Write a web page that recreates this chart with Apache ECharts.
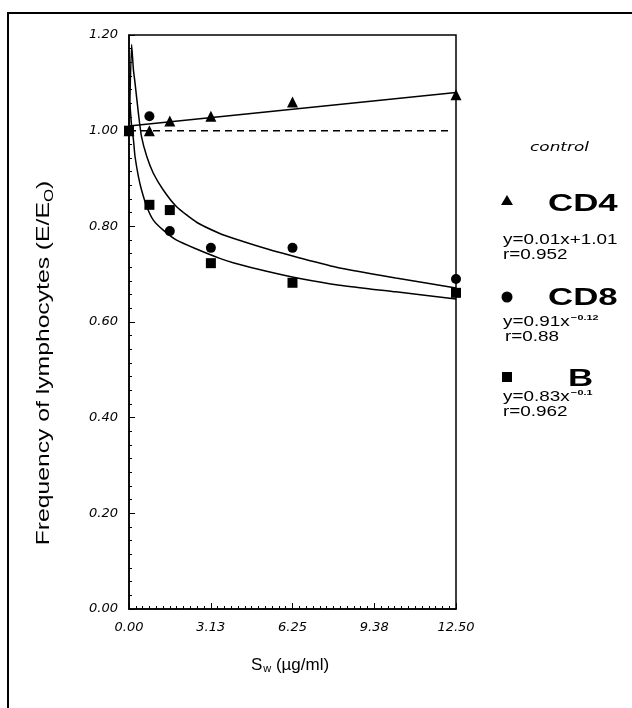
<!DOCTYPE html>
<html>
<head>
<meta charset="utf-8">
<script src="https://cdn.jsdelivr.net/npm/echarts@6/dist/echarts.min.js"></script>
<style>
html, body { margin: 0; padding: 0; background: #fff; }
#chart { width: 632px; height: 708px; }
</style>
</head>
<body>
<div id="chart"></div>
<script>
// tick labels
const xTickLabels = ['0.00', '3.13', '6.25', '9.38', '12.50'];
const yTickLabels = ['0.00', '0.20', '0.40', '0.60', '0.80', '1.00', '1.20'];

// measured points (dose in ug/ml)
const doses = [0, 0.78, 1.56, 3.13, 6.25, 12.5];
const cd4 = [1.00, 1.00, 1.02, 1.03, 1.06, 1.075];
const cd8 = [1.00, 1.03, 0.79, 0.755, 0.755, 0.69];
const bCells = [1.00, 0.845, 0.834, 0.723, 0.682, 0.661];

// fitted curves
const cd4FitX = [0, 12.5];
const cd4FitY = [1.01, 1.08];
const cd8FitX = [0.01, 0.1, 0.17, 0.23, 0.36, 0.48, 0.68, 0.93, 1.31, 1.82, 2.6, 3.47, 3.98, 5.26, 6.53, 8.05, 10.2, 12.5];
const cd8FitY = [1.00, 1.18, 1.127, 1.10, 1.036, 0.987, 0.946, 0.911, 0.876, 0.841, 0.808, 0.785, 0.775, 0.753, 0.734, 0.713, 0.692, 0.671];
const bFitX = [0.03, 0.1, 0.17, 0.23, 0.36, 0.48, 0.68, 0.93, 1.31, 1.82, 2.6, 3.47, 3.98, 5.26, 6.53, 8.05, 10.2, 12.5];
const bFitY = [1.06, 1.01, 0.981, 0.946, 0.904, 0.876, 0.841, 0.813, 0.792, 0.771, 0.752, 0.733, 0.724, 0.706, 0.691, 0.677, 0.663, 0.648];
const controlX = [0, 12.2];
const controlY = [1.00, 1.00];

const pairs = (xs, ys) => xs.map((x, i) => [x, ys[i]]);

const chart = echarts.init(document.getElementById('chart'));

const tickFont = { fontFamily: 'DejaVu Sans', fontStyle: 'italic', fontSize: 13, color: '#000' };
const fitLine = (name, data) => ({
    name: name,
    type: 'line',
    data: data,
    showSymbol: false,
    smooth: 0.2,
    lineStyle: { color: '#000', width: 1.5 },
    z: 2
});
const dots = (name, symbol, size, data) => ({
    name: name,
    type: 'scatter',
    symbol: symbol,
    symbolSize: size,
    data: data,
    itemStyle: { color: '#000', opacity: 1 },
    z: 3
});

// the figure's lettering is wide, so legend text is stretched sideways
const eqFont = { fontFamily: 'Liberation Sans', fontSize: 14, color: '#000' };
const bigLabel = (text, x, y) => ({
    type: 'text', x: x, y: y, scaleX: 1.45,
    style: { text: text, fontFamily: 'Liberation Sans', fontWeight: 'bold', fontSize: 24, fill: '#000', verticalAlign: 'middle' }
});
const eqLabel = (text, x, y) => ({
    type: 'text', x: x, y: y, scaleX: 1.35,
    style: { text: text, ...eqFont, fill: '#000', verticalAlign: 'middle' }
});
const eqPow = (base, pow, x, y) => ({
    type: 'text', x: x, y: y, scaleX: 1.35,
    style: {
        text: '{a|' + base + '}{p|' + pow + '}', verticalAlign: 'middle',
        rich: { a: { ...eqFont }, p: { fontFamily: 'Liberation Sans', fontSize: 8, fontWeight: 'bold', color: '#000', padding: [0, 0, 8, 1] } }
    }
});

const option = {
    animation: false,
    backgroundColor: '#fff',
    grid: {
        left: 129, top: 35, width: 327, height: 574,
        show: true, borderColor: '#000', borderWidth: 1.5
    },
    xAxis: {
        type: 'value',
        min: 0, max: 12.5, interval: 3.125,
        axisLine: { lineStyle: { color: '#000', width: 1.5 } },
        axisTick: { inside: true, length: 6, lineStyle: { color: '#000' } },
        minorTick: { show: true, splitNumber: 12, length: 3, lineStyle: { color: '#000' } },
        splitLine: { show: false },
        axisLabel: Object.assign({ margin: 12, formatter: (v) => xTickLabels[Math.round(v / 3.125)] }, tickFont)
    },
    yAxis: {
        type: 'value',
        min: 0, max: 1.2, interval: 0.2,
        axisLine: { lineStyle: { color: '#000', width: 1.5 } },
        axisTick: { inside: true, length: 6, lineStyle: { color: '#000' } },
        minorTick: { show: true, splitNumber: 7, length: 3, lineStyle: { color: '#000' } },
        splitLine: { show: false },
        axisLabel: Object.assign({ margin: 11, formatter: (v) => yTickLabels[Math.round(v / 0.2)] }, tickFont)
    },
    series: [
        {
            name: 'control',
            type: 'line',
            data: pairs(controlX, controlY),
            showSymbol: false,
            lineStyle: { color: '#000', width: 1.5, type: [7, 5] },
            z: 2
        },
        fitLine('CD4 fit', pairs(cd4FitX, cd4FitY)),
        fitLine('CD8 fit', pairs(cd8FitX, cd8FitY)),
        fitLine('B fit', pairs(bFitX, bFitY)),
        dots('CD4', 'triangle', 11, pairs(doses, cd4)),
        dots('CD8', 'circle', 10, pairs(doses, cd8)),
        dots('B', 'rect', 10, pairs(doses, bCells))
    ],
    graphic: [
        // outer frame
        { type: 'rect', shape: { x: 8, y: 13, width: 700, height: 800 },
          style: { fill: 'none', stroke: '#000', lineWidth: 2 } },
        // y axis title
        { type: 'text', x: 44, y: 363, rotation: Math.PI / 2, scaleX: 1.3,
          style: {
              text: '{a|Frequency of lymphocytes (E/E}{s|O}{a|)}',
              align: 'center', verticalAlign: 'middle',
              rich: {
                  a: { fontFamily: 'Liberation Sans', fontSize: 19, color: '#000' },
                  s: { fontFamily: 'Liberation Sans', fontSize: 13, color: '#000', padding: [10, 0, 0, 0] }
              }
          } },
        // x axis title
        { type: 'text', x: 290, y: 665,
          style: {
              text: '{a|S}{s|w}{a| (\u00b5g/ml)}',
              align: 'center', verticalAlign: 'middle',
              rich: {
                  a: { fontFamily: 'Liberation Sans', fontSize: 17, color: '#000' },
                  s: { fontFamily: 'Liberation Sans', fontSize: 11, color: '#000', padding: [8, 0, 0, 1] }
              }
          } },
        // legend block
        { type: 'text', x: 530, y: 148, scaleX: 1.3,
          style: { text: 'control', fontFamily: 'DejaVu Sans', fontStyle: 'italic', fontSize: 13, fill: '#000', verticalAlign: 'middle' } },
        { type: 'polygon', shape: { points: [[507, 195], [501, 205], [513, 205]] }, style: { fill: '#000' } },
        bigLabel('CD4', 548, 204),
        eqLabel('y=0.01x+1.01', 503, 240),
        eqLabel('r=0.952', 503, 255),
        { type: 'circle', shape: { cx: 507, cy: 297, r: 5.5 }, style: { fill: '#000' } },
        bigLabel('CD8', 548, 298),
        eqPow('y=0.91x', '\u22120.12', 503, 322),
        eqLabel('r=0.88', 505, 337),
        { type: 'rect', shape: { x: 502, y: 372, width: 10, height: 10 }, style: { fill: '#000' } },
        bigLabel('B', 568, 379),
        eqPow('y=0.83x', '\u22120.1', 503, 397),
        eqLabel('r=0.962', 503, 412)
    ]
};

chart.setOption(option);
window.addEventListener('resize', () => chart.resize());
</script>
</body>
</html>
